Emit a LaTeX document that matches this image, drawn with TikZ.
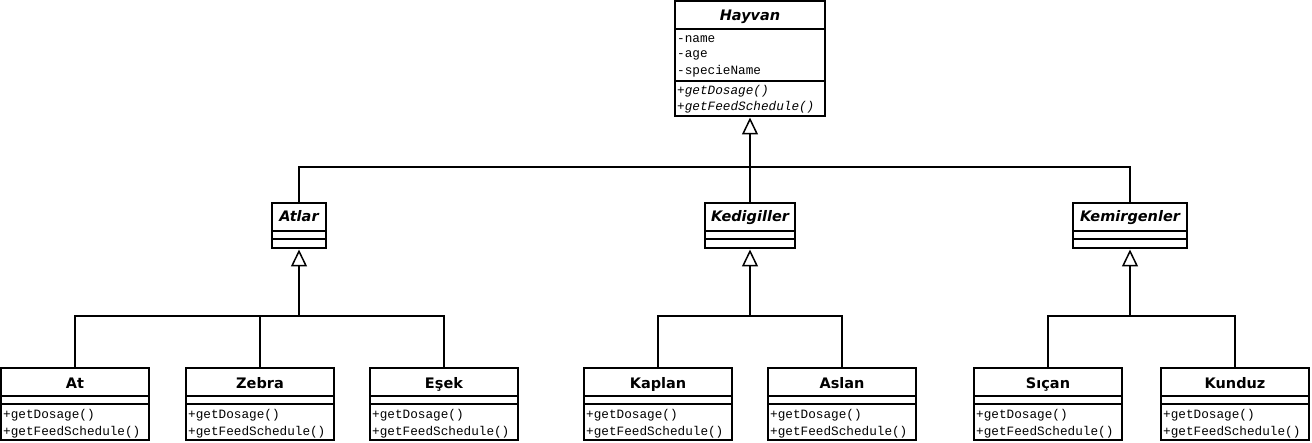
\documentclass[tikz,border=0pt]{standalone}
\usepackage{fontspec}
\setmainfont{DejaVu Sans}
\newfontfamily\monofnt{Liberation Mono}
\usetikzlibrary{arrows.meta}
\tikzset{
  box/.style={draw, line width=1.5pt, inner sep=0pt, outer sep=0pt, anchor=north west, fill=white},
  sep/.style={line width=1.5pt},
  ttl/.style={inner sep=0pt, anchor=base, font=\fontsize{14.5}{16}\selectfont\bfseries},
  mem/.style={inner sep=0pt, anchor=west, font=\monofnt\fontsize{12.7}{14}\selectfont},
  memi/.style={mem, font=\monofnt\fontsize{12.7}{14}\selectfont\itshape},
  wire/.style={line width=1.5pt},
  gen/.style={line width=1.5pt, -{Triangle[open, length=17pt, width=16pt, line width=1.5pt]}, shorten >=1.5pt},
}
\newcommand{\subcls}[3]{%
  \node[box, minimum width=148pt, minimum height=72pt] (#1) at (#2,368) {};
  \draw[sep] (#2,396) -- ({#2+148},396);
  \draw[sep] (#2,404) -- ({#2+148},404);
  \node[ttl] (#1-t) at ({#2+74},388.5) {#3};
  \node[mem] (#1-m1) at ({#2+2},415) {+getDosage()};
  \node[mem] (#1-m2) at ({#2+2},432) {+getFeedSchedule()};
}
\newcommand{\midcls}[4]{%
  \node[box, minimum width=#3pt, minimum height=45pt] (#1) at (#2,203) {};
  \draw[sep] (#2,231) -- ({#2+#3},231);
  \draw[sep] (#2,239) -- ({#2+#3},239);
  \node[ttl] (#1-t) at ({#2+#3/2},222) {\itshape #4};
}
\begin{document}
\begin{tikzpicture}[x=1pt,y=-1pt]
\useasboundingbox (0,0) rectangle (1312,443);
% top class
\node[box, minimum width=150pt, minimum height=115pt] (hayvan) at (675,1) {};
\draw[sep] (675,29) -- (825,29);
\draw[sep] (675,81) -- (825,81);
\node[ttl] (hayvan-t) at (750,21) {\itshape Hayvan};
\node[mem] (hayvan-a1) at (677,39) {-name};
\node[mem] (hayvan-a2) at (677,55) {-age};
\node[mem] (hayvan-a3) at (677,71) {-specieName};
\node[memi] (hayvan-m1) at (677,91) {+getDosage()};
\node[memi] (hayvan-m2) at (677,107) {+getFeedSchedule()};
% middle classes
\midcls{atlar}{272}{54}{Atlar}
\midcls{kedi}{705}{90}{Kedigiller}
\midcls{kemir}{1073}{114}{Kemirgenler}
% bottom classes
\subcls{at}{1}{At}
\subcls{zebra}{186}{Zebra}
\subcls{esek}{370}{Eşek}
\subcls{kaplan}{584}{Kaplan}
\subcls{aslan}{768}{Aslan}
\subcls{sican}{974}{Sıçan}
\subcls{kunduz}{1161}{Kunduz}
% connectors level 1
\coordinate (b1) at (750,167);
\draw[gen] (b1) -- (hayvan.south);
\draw[wire] (atlar.north) |- (b1) -| (kemir.north);
\draw[wire] (kedi.north) -- (b1);
% Atlar group
\coordinate (b2) at (299,316);
\draw[gen] (b2) -- (atlar.south);
\draw[wire] (at.north) |- (b2) -| (esek.north);
\draw[wire] (zebra.north) -- (zebra.north |- b2);
% Kedigiller group
\coordinate (b3) at (750,316);
\draw[gen] (b3) -- (kedi.south);
\draw[wire] (kaplan.north) |- (b3) -| (aslan.north);
% Kemirgenler group
\coordinate (b4) at (1130,316);
\draw[gen] (b4) -- (kemir.south);
\draw[wire] (sican.north) |- (b4) -| (kunduz.north);
\end{tikzpicture}
\end{document}
